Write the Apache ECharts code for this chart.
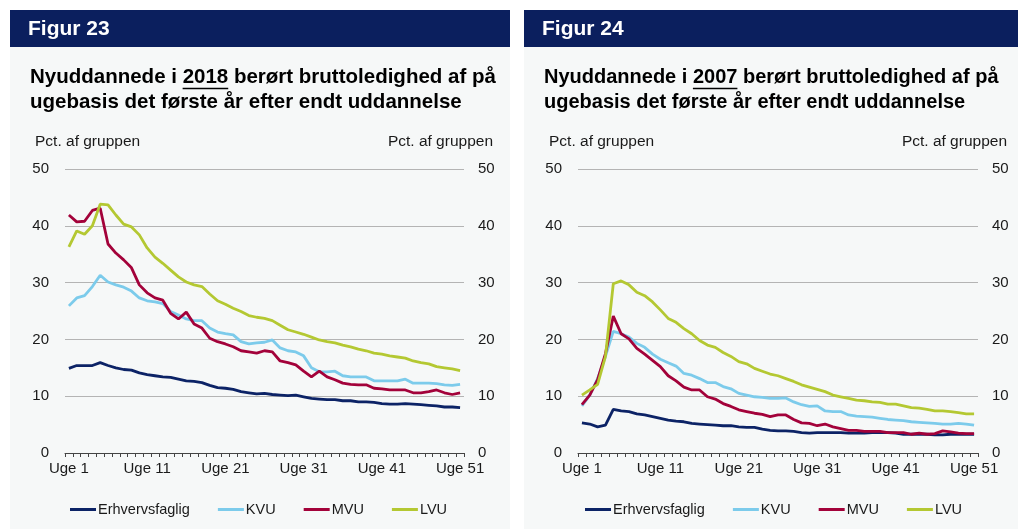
<!DOCTYPE html>
<html>
<head>
<meta charset="utf-8">
<script src="https://cdn.jsdelivr.net/npm/echarts@6/dist/echarts.min.js"></script>
<style>
  html, body { margin: 0; padding: 0; background: #fff; }
  #chart { width: 1018px; height: 529px; }
</style>
</head>
<body>
<div id="chart"></div>
<script>
// uger
const weeks = [
  'Uge 1','Uge 2','Uge 3','Uge 4','Uge 5','Uge 6','Uge 7','Uge 8','Uge 9','Uge 10',
  'Uge 11','Uge 12','Uge 13','Uge 14','Uge 15','Uge 16','Uge 17','Uge 18','Uge 19','Uge 20',
  'Uge 21','Uge 22','Uge 23','Uge 24','Uge 25','Uge 26','Uge 27','Uge 28','Uge 29','Uge 30',
  'Uge 31','Uge 32','Uge 33','Uge 34','Uge 35','Uge 36','Uge 37','Uge 38','Uge 39','Uge 40',
  'Uge 41','Uge 42','Uge 43','Uge 44','Uge 45','Uge 46','Uge 47','Uge 48','Uge 49','Uge 50',
  'Uge 51'
];
const yTicks = [0, 10, 20, 30, 40, 50];

// Figur 23 - nyuddannede 2018
const erhverv2018 = [14.9,15.4,15.4,15.4,15.9,15.4,15.0,14.7,14.6,14.1,13.8,13.6,13.4,13.3,13.0,12.7,12.6,12.4,11.9,11.5,
  11.4,11.2,10.8,10.6,10.4,10.5,10.3,10.2,10.1,10.2,9.9,9.6,9.5,9.4,9.4,9.2,9.2,9.0,9.0,8.9,
  8.7,8.6,8.6,8.7,8.6,8.5,8.4,8.3,8.1,8.1,8.0];
const kvu2018 = [25.9,27.3,27.7,29.3,31.3,30.1,29.6,29.2,28.5,27.3,26.8,26.6,26.3,24.9,24.3,23.6,23.3,23.3,22.0,21.3,
  21.0,20.8,19.6,19.2,19.4,19.5,19.9,18.5,18.0,17.8,17.1,15.0,14.3,14.3,14.4,13.6,13.4,13.4,13.4,12.7,
  12.7,12.7,12.7,13.0,12.3,12.3,12.3,12.2,12.0,11.9,12.1];
const mvu2018 = [41.9,40.7,40.8,42.7,43.1,36.8,35.2,34.0,32.6,29.6,28.2,27.3,26.9,24.6,23.6,24.8,22.7,22.0,20.2,19.6,
  19.2,18.7,18.0,17.8,17.6,18.0,17.8,16.2,15.9,15.5,14.4,13.4,14.4,13.4,12.9,12.3,12.1,12.0,12.0,11.4,
  11.3,11.1,11.1,11.1,10.6,10.6,10.8,11.1,10.6,10.3,10.6];
const lvu2018 = [36.3,39.1,38.5,40.0,43.8,43.7,41.9,40.3,39.8,38.4,36.1,34.5,33.4,32.2,31.0,30.1,29.6,29.3,28.0,26.8,
  26.2,25.5,24.9,24.2,23.9,23.7,23.3,22.5,21.7,21.3,20.9,20.4,19.9,19.6,19.4,19.0,18.7,18.3,18.0,17.6,
  17.4,17.1,16.9,16.7,16.2,15.9,15.7,15.2,15.0,14.8,14.5];

// Figur 24 - nyuddannede 2007
const erhverv2007 = [5.3,5.1,4.6,4.9,7.7,7.4,7.3,6.9,6.7,6.4,6.1,5.8,5.6,5.5,5.2,5.1,5.0,4.9,4.8,4.8,
  4.6,4.5,4.5,4.2,4.0,3.9,3.9,3.8,3.6,3.5,3.6,3.6,3.6,3.6,3.5,3.5,3.5,3.6,3.6,3.6,
  3.5,3.3,3.3,3.3,3.3,3.2,3.2,3.3,3.3,3.3,3.3];
const kvu2007 = [8.3,10.2,13.1,17.0,21.4,21.0,20.4,19.3,18.6,17.4,16.5,15.9,15.3,14.0,13.7,13.1,12.4,12.4,11.7,11.3,
  10.5,10.2,9.9,9.8,9.6,9.6,9.7,9.0,8.5,8.2,8.3,7.4,7.3,7.3,6.7,6.5,6.4,6.3,6.1,5.9,
  5.8,5.7,5.5,5.4,5.3,5.2,5.1,5.1,5.2,5.1,4.9];
const mvu2007 = [8.5,10.2,12.9,17.5,24.1,21.0,20.1,18.4,17.4,16.3,15.2,13.6,12.7,11.6,11.1,11.1,9.9,9.5,8.7,8.2,
  7.6,7.3,7.0,6.8,6.4,6.7,6.7,5.9,5.3,5.2,4.8,5.1,4.6,4.3,4.0,4.0,3.8,3.8,3.8,3.6,
  3.6,3.6,3.3,3.5,3.3,3.4,3.9,3.7,3.5,3.4,3.4];
const lvu2007 = [10.2,11.1,12.1,17.0,29.8,30.3,29.6,28.3,27.7,26.6,25.2,23.7,23.0,21.9,21.0,19.8,19.0,18.6,17.7,17.0,
  16.1,15.7,14.9,14.4,13.9,13.6,13.1,12.6,12.0,11.6,11.2,10.8,10.2,9.9,9.6,9.3,9.2,9.0,8.9,8.6,
  8.6,8.3,8.0,7.9,7.7,7.4,7.4,7.3,7.1,6.9,6.9];

const seriesNames = ['Erhvervsfaglig', 'KVU', 'MVU', 'LVU'];
const colors = ['#0c2366', '#7ccbeb', '#a3023a', '#b4c832'];

const FONT = "'Liberation Sans', Arial, sans-serif";
const navy = '#0b1f5e';
const panelBg = '#f6f8f8';

// bredde af tekst til understregning
function textWidth(str, font) {
  const ctx = document.createElement('canvas').getContext('2d');
  ctx.font = font;
  return ctx.measureText(str).width;
}

const smallFont = "15.5px 'Liberation Sans', Arial, sans-serif";

function panelGraphics(x0, w, rightX, fig, year, titleSize) {
  const titleFont = 'bold ' + titleSize + "px 'Liberation Sans', Arial, sans-serif";
  const pre = 'Nyuddannede i ';
  const ux = x0 + 20 + textWidth(pre, titleFont);
  const uw = textWidth(year, titleFont);
  return [
    { type: 'rect', shape: { x: x0, y: 47, width: w, height: 482 }, style: { fill: panelBg }, z: -10 },
    { type: 'rect', shape: { x: x0, y: 10, width: w, height: 37 }, style: { fill: navy } },
    { type: 'text', x: x0 + 18, y: 29, style: { text: fig, fill: '#fff', font: "bold 21px 'Liberation Sans', Arial, sans-serif", textVerticalAlign: 'middle' } },
    { type: 'text', x: x0 + 20, y: 77, style: { text: pre + year + ' berørt bruttoledighed af på', fill: '#000', font: titleFont, textVerticalAlign: 'middle' } },
    { type: 'text', x: x0 + 20, y: 102, style: { text: 'ugebasis det første år efter endt uddannelse', fill: '#000', font: titleFont, textVerticalAlign: 'middle' } },
    { type: 'line', shape: { x1: ux, y1: 88.5, x2: ux + uw, y2: 88.5 }, style: { stroke: '#000', lineWidth: 1.6 } },
    { type: 'text', x: x0 + 25, y: 142, style: { text: 'Pct. af gruppen', fill: '#1a1a1a', font: smallFont, textVerticalAlign: 'middle' } },
    { type: 'text', x: rightX, y: 142, style: { text: 'Pct. af gruppen', fill: '#1a1a1a', font: smallFont, textVerticalAlign: 'middle', textAlign: 'right' } }
  ];
}

const chart = echarts.init(document.getElementById('chart'));

const grids = [
  { left: 65, top: 169, width: 399, height: 284 },
  { left: 578, top: 169, width: 400, height: 284 }
];

function xAxisFor(i) {
  return {
    type: 'category', gridIndex: i, data: weeks, boundaryGap: true,
    axisLine: { lineStyle: { color: '#444', width: 1 } },
    axisTick: { show: true, interval: 0, length: 4, lineStyle: { color: '#444' } },
    axisLabel: { interval: 9, color: '#1a1a1a', fontSize: 15, fontFamily: FONT, margin: 8 }
  };
}

function yAxisFor(i, pos) {
  return {
    type: 'value', gridIndex: i, position: pos, min: yTicks[0], max: yTicks[yTicks.length - 1], interval: 10,
    axisLine: { show: false }, axisTick: { show: false },
    axisLabel: { color: '#1a1a1a', fontSize: 15, fontFamily: FONT, margin: pos === 'left' ? 16 : 14 },
    splitLine: { show: pos === 'left', lineStyle: { color: '#b4b4b4', width: 1 } }
  };
}

const allData = [
  [erhverv2018, kvu2018, mvu2018, lvu2018],
  [erhverv2007, kvu2007, mvu2007, lvu2007]
];

const series = [];
allData.forEach((set, g) => {
  set.forEach((vals, k) => {
    series.push({
      name: seriesNames[k], type: 'line', data: vals,
      xAxisIndex: g, yAxisIndex: g * 2,
      symbol: 'none', smooth: false,
      lineStyle: { color: colors[k], width: 2.8 },
      itemStyle: { color: colors[k] },
      z: 3 + k
    });
  });
});

const legendBase = {
  data: seriesNames, top: 497, icon: 'rect', itemWidth: 26, itemHeight: 3, itemGap: 28,
  textStyle: { color: '#1a1a1a', fontSize: 14.5, fontFamily: FONT, padding: [0, 0, 0, -3] },
  selectedMode: false
};

const option = {
  backgroundColor: '#fff',
  animation: false,
  color: colors,
  grid: grids,
  xAxis: [xAxisFor(0), xAxisFor(1)],
  yAxis: [yAxisFor(0, 'left'), yAxisFor(0, 'right'), yAxisFor(1, 'left'), yAxisFor(1, 'right')],
  legend: [
    Object.assign({}, legendBase, { left: 65 }),
    Object.assign({}, legendBase, { left: 580 })
  ],
  graphic: panelGraphics(10, 500, 493, 'Figur 23', '2018', 20.5)
    .concat(panelGraphics(524, 494, 1007, 'Figur 24', '2007', 20)),
  series: series
};

chart.setOption(option);
</script>
</body>
</html>
